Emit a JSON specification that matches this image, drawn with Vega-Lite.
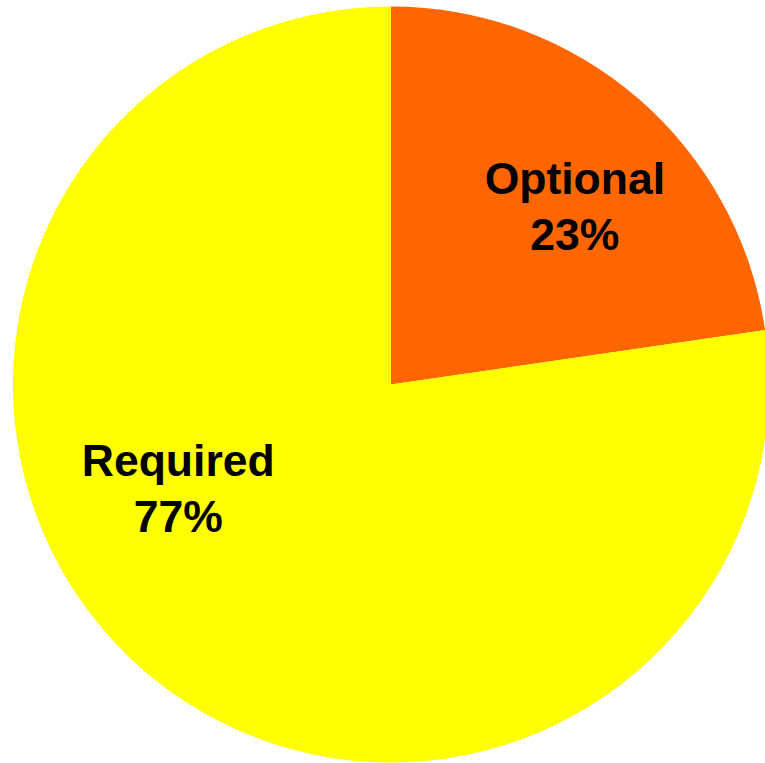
{
  "$schema": "https://vega.github.io/schema/vega-lite/v6.json",
  "width": 782,
  "height": 769,
  "autosize": "none",
  "padding": 0,
  "background": "white",
  "view": {"stroke": null},
  "data": {"values": [
    {"category": "Optional", "value": 0.227},
    {"category": "Required", "value": 0.773}
  ]},
  "transform": [
    {"calculate": "datum.category + '\\n' + format(datum.value, '.0%')", "as": "label"}
  ],
  "encoding": {
    "theta": {"field": "value", "type": "quantitative", "stack": true},
    "order": {"field": "category", "sort": "ascending"}
  },
  "layer": [
    {
      "mark": {"type": "arc", "radius": 378, "stroke": null},
      "encoding": {
        "color": {"field": "category", "type": "nominal", "legend": null,
          "scale": {"domain": ["Optional", "Required"], "range": ["#FF6600", "#FFFF00"]}}
      }
    },
    {
      "mark": {"type": "text", "radius": 252, "dx": 19, "dy": -13, "fontSize": 44.5, "fontWeight": "bold", "font": "Liberation Sans", "lineBreak": "\n", "lineHeight": 56, "align": "center", "baseline": "middle", "color": "black"},
      "encoding": {
        "text": {"condition": {"test": "datum.category === 'Optional'", "field": "label"}, "value": ""}
      }
    },
    {
      "mark": {"type": "text", "radius": 232, "dx": -61, "dy": -97, "fontSize": 44.5, "fontWeight": "bold", "font": "Liberation Sans", "lineBreak": "\n", "lineHeight": 56, "align": "center", "baseline": "middle", "color": "black"},
      "encoding": {
        "text": {"condition": {"test": "datum.category === 'Required'", "field": "label"}, "value": ""}
      }
    }
  ]
}
